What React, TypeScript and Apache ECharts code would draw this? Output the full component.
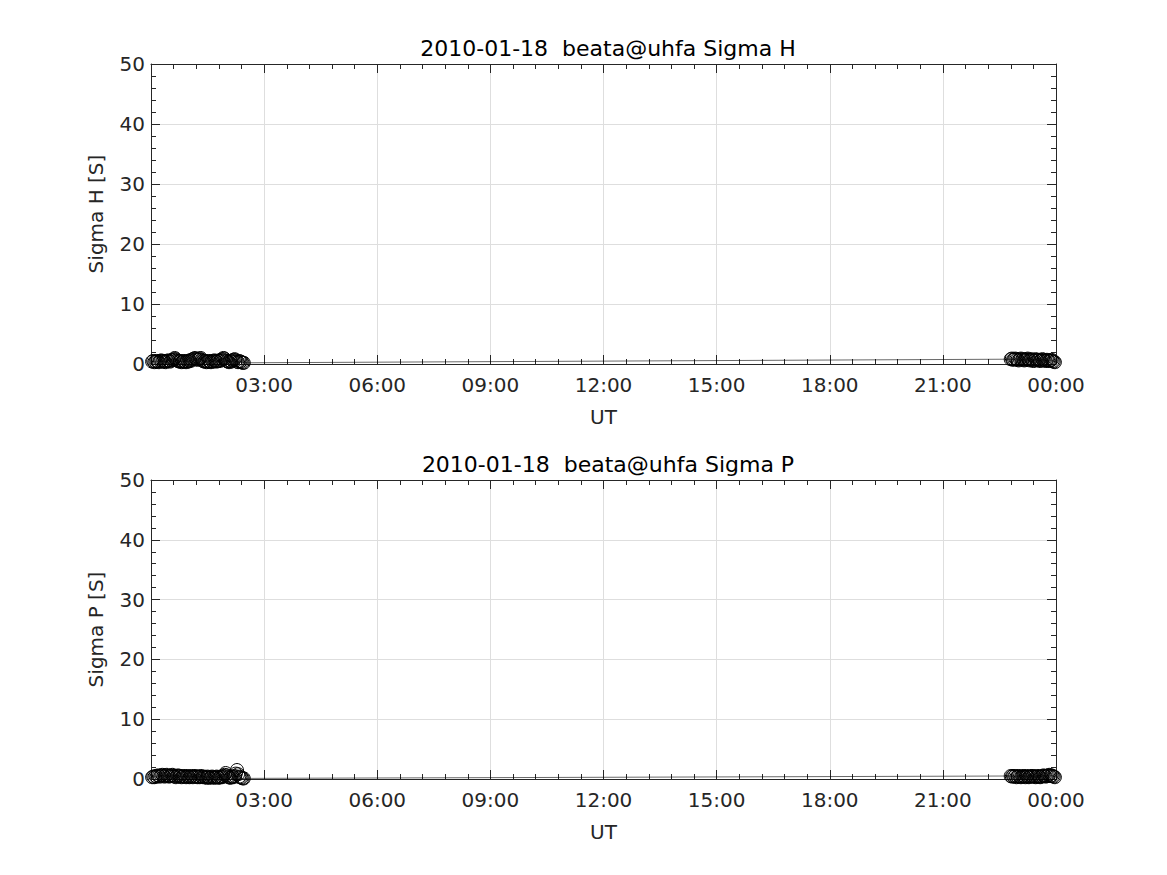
import React, { useEffect, useRef } from "react";
import * as echarts from "echarts";

// Sample times (hours UT) of the morning and evening passes
const amTimes = [0.03, 0.06, 0.09, 0.12, 0.15, 0.18, 0.21, 0.24, 0.27, 0.30, 0.33, 0.36, 0.39, 0.42, 0.45, 0.48, 0.51, 0.54, 0.57, 0.60, 0.63, 0.66, 0.69, 0.72, 0.75, 0.78, 0.81, 0.84, 0.87, 0.90, 0.93, 0.96, 0.99, 1.02, 1.05, 1.08, 1.11, 1.14, 1.17, 1.20, 1.23, 1.26, 1.29, 1.32, 1.35, 1.38, 1.41, 1.44, 1.47, 1.50, 1.53, 1.56, 1.59, 1.62, 1.65, 1.68, 1.71, 1.74, 1.77, 1.80, 1.83, 1.86, 1.89, 1.92, 1.95, 1.98, 2.01, 2.04, 2.07, 2.10, 2.13, 2.16, 2.19, 2.22, 2.25, 2.28, 2.31, 2.34, 2.37, 2.40, 2.43, 2.46];
const pmTimes = [22.80, 22.83, 22.86, 22.89, 22.92, 22.95, 22.98, 23.01, 23.04, 23.07, 23.10, 23.13, 23.16, 23.19, 23.22, 23.25, 23.28, 23.31, 23.34, 23.37, 23.40, 23.43, 23.46, 23.49, 23.52, 23.55, 23.58, 23.61, 23.64, 23.67, 23.70, 23.73, 23.76, 23.79, 23.82, 23.85, 23.88, 23.91, 23.94, 23.97];

const sigmaH_AM = [
  0.4, 0.5, 0.3, 0.4, 0.5, 0.4, 0.3, 0.5, 0.6, 0.4,
  0.5, 0.4, 0.3, 0.5, 0.6, 0.5, 0.4, 0.6, 0.7, 0.8,
  1.0, 0.8, 0.6, 0.5, 0.4, 0.5, 0.3, 0.4, 0.5, 0.4,
  0.3, 0.5, 0.4, 0.6, 0.5, 0.7, 0.8, 0.9, 1.0, 0.8,
  0.7, 0.8, 0.9, 1.0, 0.7, 0.5, 0.4, 0.5, 0.3, 0.4,
  0.5, 0.4, 0.3, 0.5, 0.4, 0.6, 0.5, 0.4, 0.5, 0.6,
  0.5, 0.7, 0.8, 1.0, 0.9, 0.6, 0.5, 0.4, 0.3, 0.5,
  0.4, 0.6, 0.7, 0.8, 0.6, 0.4, 0.3, 0.5, 0.4, 0.3,
  0.2, 0.2,
];
const sigmaH_PM = [
  0.8, 0.9, 0.7, 0.8, 0.9, 0.8, 0.7, 0.6, 0.8, 0.9,
  0.7, 0.8, 0.6, 0.7, 0.8, 0.9, 0.7, 0.6, 0.8, 0.7,
  0.5, 0.6, 0.8, 0.7, 0.6, 0.7, 0.5, 0.6, 0.8, 0.7,
  0.6, 0.5, 0.7, 0.6, 0.5, 0.6, 0.7, 0.5, 0.4, 0.3,
];
const sigmaP_AM = [
  0.3, 0.4, 0.3, 0.5, 0.4, 0.6, 0.5, 0.4, 0.6, 0.7,
  0.5, 0.4, 0.6, 0.7, 0.5, 0.4, 0.5, 0.6, 0.7, 0.5,
  0.4, 0.3, 0.5, 0.6, 0.4, 0.5, 0.3, 0.4, 0.5, 0.4,
  0.3, 0.5, 0.4, 0.3, 0.4, 0.5, 0.3, 0.4, 0.5, 0.4,
  0.3, 0.4, 0.3, 0.5, 0.4, 0.3, 0.4, 0.3, 0.2, 0.4,
  0.3, 0.2, 0.3, 0.4, 0.3, 0.2, 0.3, 0.4, 0.3, 0.2,
  0.3, 0.4, 0.3, 0.5, 0.7, 1.0, 0.6, 0.4, 0.3, 0.2,
  0.3, 0.4, 0.3, 0.5, 0.9, 1.5, 0.8, 0.4, 0.3, 0.2,
  0.1, 0.1,
];
const sigmaP_PM = [
  0.5, 0.4, 0.5, 0.4, 0.5, 0.3, 0.4, 0.5, 0.4, 0.3,
  0.4, 0.5, 0.4, 0.3, 0.5, 0.4, 0.3, 0.4, 0.5, 0.4,
  0.5, 0.4, 0.3, 0.4, 0.5, 0.4, 0.3, 0.4, 0.5, 0.6,
  0.5, 0.4, 0.5, 0.6, 0.7, 0.5, 0.6, 0.5, 0.4, 0.3,
];

const xTickLabels = ["", "03:00", "06:00", "09:00", "12:00", "15:00", "18:00", "21:00", "00:00"];
const yTicks = [0, 10, 20, 30, 40, 50];
const titles = ["2010-01-18  beata@uhfa Sigma H", "2010-01-18  beata@uhfa Sigma P"];
const yNames = ["Sigma H [S]", "Sigma P [S]"];

const FONT = "DejaVu Sans";
const TXT = "#262626";

function pairs(t: number[], v: number[]) {
  return t.map((x, i) => [x, v[i]]);
}

export default function App() {
  const ref = useRef<HTMLDivElement>(null);
  useEffect(() => {
    document.body.style.margin = "0";
    const chart = echarts.init(ref.current!, undefined, { renderer: "svg" });
    const grids = [
      { left: 151, top: 64, width: 905, height: 300 },
      { left: 151, top: 480, width: 905, height: 299 },
    ];
    const xAxes: any[] = [];
    const yAxes: any[] = [];
    grids.forEach((_, gi) => {
      const base = {
        type: "value",
        gridIndex: gi,
        min: 0,
        max: 24,
        interval: 3,
        axisLine: { show: true, onZero: false, lineStyle: { color: TXT, width: 1 } },
        axisTick: { show: true, inside: true, length: 9, lineStyle: { color: TXT } },
        minorTick: { show: true, splitNumber: 5, length: 5, lineStyle: { color: TXT } },
      };
      xAxes.push({
        ...base,
        position: "bottom",
        name: "UT",
        nameLocation: "middle",
        nameGap: 43,
        nameTextStyle: { fontFamily: FONT, fontSize: 20, color: TXT },
        axisLabel: {
          fontFamily: FONT,
          fontSize: 20,
          color: TXT,
          margin: 11,
          formatter: (v: number) => xTickLabels[Math.round(v / 3)] ?? "",
        },
        splitLine: { show: true, lineStyle: { color: "#dedede", width: 1 } },
      });
      xAxes.push({
        ...base,
        position: "top",
        axisLabel: { show: false },
        splitLine: { show: false },
      });
      const ybase = {
        type: "value",
        gridIndex: gi,
        min: yTicks[0],
        max: yTicks[yTicks.length - 1],
        interval: 10,
        axisLine: { show: true, onZero: false, lineStyle: { color: TXT, width: 1 } },
        axisTick: { show: true, inside: true, length: 9, lineStyle: { color: TXT } },
        minorTick: { show: true, splitNumber: 5, length: 5, lineStyle: { color: TXT } },
      };
      yAxes.push({
        ...ybase,
        position: "left",
        name: yNames[gi],
        nameLocation: "middle",
        nameGap: 45,
        nameTextStyle: { fontFamily: FONT, fontSize: 20, color: TXT },
        axisLabel: { fontFamily: FONT, fontSize: 20, color: TXT, margin: 6 },
        splitLine: { show: true, lineStyle: { color: "#dedede", width: 1 } },
      });
      yAxes.push({
        ...ybase,
        position: "right",
        axisLabel: { show: false },
        splitLine: { show: false },
      });
    });
    const mkSeries = (gi: number, data: number[][]) => ({
      type: "line",
      xAxisIndex: gi * 2,
      yAxisIndex: gi * 2,
      data,
      symbol: "circle",
      symbolSize: 13,
      showSymbol: true,
      showAllSymbol: true,
      clip: false,
      lineStyle: { color: "#000", width: 0.6 },
      itemStyle: { color: "rgba(255,255,255,0)", borderColor: "#000", borderWidth: 1 },
      z: 5,
    });
    chart.setOption({
      animation: false,
      backgroundColor: "#fff",
      title: titles.map((t, i) => ({
        text: t,
        left: 603,
        top: i === 0 ? 32 : 448,
        textAlign: "center",
        textStyle: { fontFamily: FONT, fontSize: 22, fontWeight: "normal", color: "#000" },
      })),
      grid: grids,
      xAxis: xAxes,
      yAxis: yAxes,
      series: [
        mkSeries(0, [...pairs(amTimes, sigmaH_AM), ...pairs(pmTimes, sigmaH_PM)]),
        mkSeries(1, [...pairs(amTimes, sigmaP_AM), ...pairs(pmTimes, sigmaP_PM)]),
      ],
    });
    return () => chart.dispose();
  }, []);
  return <div ref={ref} style={{ width: 1167, height: 875 }} />;
}
